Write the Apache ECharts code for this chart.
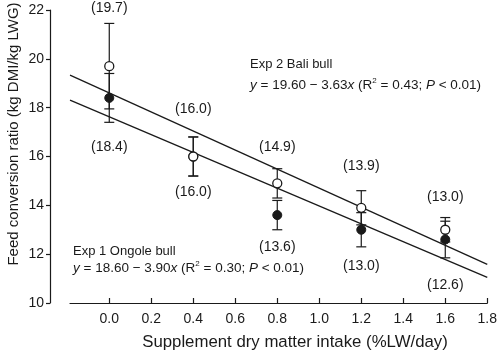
<!DOCTYPE html>
<html>
<head>
<meta charset="utf-8">
<script src="https://cdn.jsdelivr.net/npm/echarts@6/dist/echarts.min.js"></script>
<style>
  html, body { margin: 0; padding: 0; background: #fff; }
  #chart { width: 500px; height: 353px; }
</style>
</head>
<body>
<div id="chart"></div>
<script>
var FONT = '"Liberation Sans", Arial, Helvetica, sans-serif';
var INK = '#1a1a1a';

// supplement levels (%LW/day)
var doses = [0.0, 0.4, 0.8, 1.2, 1.6];
var tickValues = [0.0, 0.2, 0.4, 0.6, 0.8, 1.0, 1.2, 1.4, 1.6, 1.8];

// Exp 2 Bali bull (open circles)
var bali = [19.7, 16.0, 14.9, 13.9, 13.0];
var baliErr = [1.75, 0.8, 0.6, 0.7, 0.5];
var baliLabelY = [22.08, 17.94, 16.39, 15.61, 14.34];

// Exp 1 Ongole bull (filled circles)
var ongole = [18.4, 16.0, 13.6, 13.0, 12.6];
var ongoleErr = [1.0, 0.8, 0.6, 0.7, 0.75];
var ongoleLabelY = [16.39, 14.55, 12.29, 11.52, 10.74];

// fitted lines as drawn (end points)
var upperFit = [[-0.187, 19.33], [1.8, 11.58]];
var lowerFit = [[-0.187, 18.31], [1.8, 11.05]];

function errData(vals, errs) {
    return doses.map(function (d, i) { return [d, vals[i] - errs[i], vals[i] + errs[i]]; });
}
function labelData(vals, ys) {
    return doses.map(function (d, i) { return [d, ys[i], vals[i]]; });
}

function renderErr(params, api) {
    var x = api.value(0);
    var lo = api.coord([x, api.value(1)]);
    var hi = api.coord([x, api.value(2)]);
    var w = 5;
    var st = { stroke: INK, lineWidth: 1.2 };
    return {
        type: 'group',
        children: [
            { type: 'line', shape: { x1: hi[0], y1: hi[1], x2: lo[0], y2: lo[1] }, style: st },
            { type: 'line', shape: { x1: hi[0] - w, y1: hi[1], x2: hi[0] + w, y2: hi[1] }, style: st },
            { type: 'line', shape: { x1: lo[0] - w, y1: lo[1], x2: lo[0] + w, y2: lo[1] }, style: st }
        ]
    };
}

var labelStyle = {
    show: true,
    position: 'inside',
    color: INK,
    opacity: 1,
    textBorderWidth: 0,
    fontFamily: FONT,
    fontSize: 14,
    formatter: function (p) { return '(' + p.value[2].toFixed(1) + ')'; }
};

var rich = {
    i: { fontStyle: 'italic', fontFamily: FONT, fontSize: 13.5, color: INK },
    sup: { fontFamily: FONT, fontSize: 8, verticalAlign: 'top', padding: [0, 0, 8, 0], color: INK }
};

var chart = echarts.init(document.getElementById('chart'), null, { renderer: 'canvas' });

var option = {
    animation: false,
    backgroundColor: '#fff',
    grid: { left: 70, right: 10, top: 10, bottom: 50 },
    xAxis: {
        type: 'value',
        min: -0.187,
        max: 1.8,
        splitLine: { show: false },
        axisLine: { show: true, onZero: false, lineStyle: { color: INK, width: 1.2 } },
        axisTick: { show: true, inside: true, length: 5, customValues: tickValues, lineStyle: { color: INK, width: 1.2 } },
        axisLabel: {
            customValues: tickValues,
            margin: 9,
            color: INK,
            fontFamily: FONT,
            fontSize: 14,
            formatter: function (v) { return v.toFixed(1); }
        }
    },
    yAxis: {
        type: 'value',
        min: 10,
        max: 22,
        interval: 2,
        offset: 20,
        splitLine: { show: false },
        axisLine: { show: true, onZero: false, lineStyle: { color: INK, width: 1.2 } },
        axisTick: { show: true, length: 4, lineStyle: { color: INK, width: 1.2 } },
        axisLabel: { margin: 6, color: INK, fontFamily: FONT, fontSize: 14 }
    },
    series: [
        {
            type: 'line', data: upperFit, symbol: 'none', silent: true, z: 1,
            lineStyle: { color: INK, width: 1.3 }
        },
        {
            type: 'line', data: lowerFit, symbol: 'none', silent: true, z: 1,
            lineStyle: { color: INK, width: 1.3 }
        },
        {
            type: 'custom', renderItem: renderErr, data: errData(ongole, ongoleErr),
            encode: { x: 0, y: [1, 2] }, z: 2
        },
        {
            type: 'custom', renderItem: renderErr, data: errData(bali, baliErr),
            encode: { x: 0, y: [1, 2] }, z: 2
        },
        {
            type: 'scatter', data: doses.map(function (d, i) { return [d, ongole[i]]; }),
            symbol: 'circle', symbolSize: 9, z: 3,
            itemStyle: { color: INK, borderColor: INK, borderWidth: 1, opacity: 1 }
        },
        {
            type: 'scatter', data: doses.map(function (d, i) { return [d, bali[i]]; }),
            symbol: 'circle', symbolSize: 9, z: 4,
            itemStyle: { color: '#fff', borderColor: INK, borderWidth: 1.3, opacity: 1 }
        },
        {
            type: 'scatter', data: labelData(bali, baliLabelY), clip: false,
            symbolSize: 1, itemStyle: { color: 'rgba(0,0,0,0)', opacity: 1 }, label: labelStyle, z: 5
        },
        {
            type: 'scatter', data: labelData(ongole, ongoleLabelY), clip: false,
            symbolSize: 1, itemStyle: { color: 'rgba(0,0,0,0)', opacity: 1 }, label: labelStyle, z: 5
        }
    ],
    graphic: [
        {
            type: 'text', left: 250, top: 58,
            style: { text: 'Exp 2 Bali bull', fontFamily: FONT, fontSize: 13, fill: INK }
        },
        {
            type: 'text', left: 250, top: 77,
            style: {
                text: '{i|y} = 19.60 \u2212 3.63{i|x} (R{sup|2} = 0.43; {i|P} < 0.01)',
                rich: rich, fontFamily: FONT, fontSize: 13.5, fill: INK
            }
        },
        {
            type: 'text', left: 73, top: 245,
            style: { text: 'Exp 1 Ongole bull', fontFamily: FONT, fontSize: 13, fill: INK }
        },
        {
            type: 'text', left: 73, top: 260,
            style: {
                text: '{i|y} = 18.60 \u2212 3.90{i|x} (R{sup|2} = 0.30; {i|P} < 0.01)',
                rich: rich, fontFamily: FONT, fontSize: 13.5, fill: INK
            }
        },
        {
            type: 'text', x: 295, y: 342,
            style: {
                text: 'Supplement dry matter intake (%LW/day)', fontFamily: FONT, fontSize: 16.8,
                fill: INK, align: 'center', verticalAlign: 'middle'
            }
        },
        {
            type: 'text', x: 14, y: 134, rotation: Math.PI / 2,
            style: {
                text: 'Feed conversion ratio (kg DMI/kg LWG)', fontFamily: FONT, fontSize: 15,
                fill: INK, align: 'center', verticalAlign: 'middle'
            }
        }
    ]
};

chart.setOption(option);
</script>
</body>
</html>
